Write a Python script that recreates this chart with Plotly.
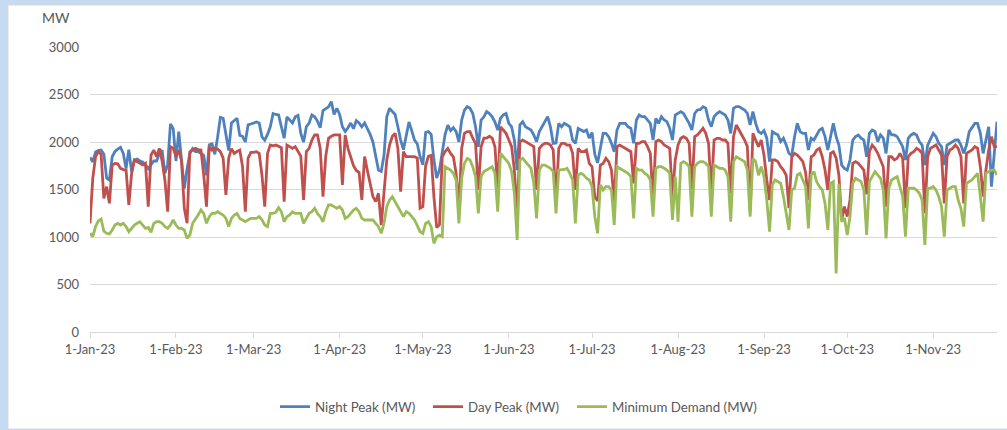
import pandas as pd
import plotly.graph_objects as go

#Daily demand values (MW), one row per week starting on Sunday
night_peak = [
	1840, 1790, 1895, 1910, 1915, 1870, 1620,
	1600, 1845, 1900, 1925, 1945, 1880, 1720,
	1920, 1690, 1810, 1820, 1800, 1790, 1760,
	1720, 1760, 1800, 1800, 1880, 1915, 1670,
	1760, 2190, 2140, 1800, 2110, 1810, 1510,
	1720, 1880, 1930, 1900, 1900, 1880, 1860,
	1650, 1970, 1980, 1870, 2050, 2260, 2250,
	2080, 1910, 2200, 2230, 2250, 2070, 2060,
	2000, 2180, 2190, 2200, 2210, 2200, 2055,
	2020, 2080, 2160, 2300, 2290, 2285, 2160,
	2040, 2265, 2230, 2200, 2265, 2280, 2090,
	2000, 2160, 2200, 2285, 2265, 2220, 2150,
	2330, 2350, 2370, 2425, 2290, 2355, 2290,
	2160, 2110, 2150, 2200, 2140, 2225, 2200,
	2160, 2200, 2140, 2080, 2000, 1845, 1705,
	1690, 1860, 2265, 2355, 2320, 2290, 2160,
	2020, 1920, 2050, 2210, 2120, 2020, 1980,
	1845, 1760, 2100, 2110, 2080, 1810, 1620,
	1705, 1880, 2075, 2178, 2120, 2150, 2110,
	2000, 2230, 2336, 2372, 2354, 2300, 2160,
	1950, 2230, 2265, 2320, 2300, 2265, 2210,
	2125, 2250, 2285, 2300, 2196, 2160, 2020,
	1705, 2180, 2214, 2160, 2144, 2126, 2074,
	2004, 2110, 2160, 2214, 2267, 2160, 1986,
	1990, 2196, 2160, 2196, 2180, 2160, 2020,
	1985, 2143, 2126, 2110, 2126, 2040, 2100,
	1870, 1780, 1950, 2090, 2090, 2055, 1986,
	1898, 2126, 2196, 2196, 2196, 2160, 2144,
	1986, 2232, 2284, 2267, 2267, 2232, 2196,
	2021, 2249, 2196, 2267, 2232, 2214, 2144,
	2021, 2284, 2300, 2320, 2300, 2250, 2196,
	2126, 2300, 2337, 2340, 2372, 2355, 2232,
	2161, 2267, 2300, 2320, 2300, 2284, 2232,
	2091, 2354, 2372, 2372, 2354, 2337, 2300,
	2179, 2320, 2196, 2110, 2090, 2120, 2040,
	1793, 2108, 2090, 2075, 2004, 2040, 1968,
	1880, 1860, 2056, 2196, 2110, 2090, 2090,
	1916, 2039, 2021, 2074, 2126, 2144, 2056,
	1916, 2050, 2196, 2056, 1968, 1757, 1722,
	1705, 1810, 2021, 2056, 2074, 2040, 2021,
	1845, 2091, 2126, 2110, 2004, 2074, 2040,
	1880, 2126, 2074, 2074, 2056, 2004, 1951,
	1810, 2039, 2074, 2090, 2074, 2004, 1968,
	1757, 1968, 2039, 2091, 2056, 1986, 1951,
	1757, 1968, 1986, 2004, 2021, 2021, 1968,
	1880, 1968, 2109, 2160, 2196, 2196, 2091,
	1880, 2039, 2161, 1530, 1900, 2214,
]

day_peak = [
	1144, 1618, 1845, 1898, 1870, 1407, 1530,
	1355, 1758, 1775, 1770, 1722, 1710, 1705,
	1337, 1670, 1810, 1793, 1770, 1758, 1775,
	1320, 1863, 1915, 1845, 1933, 1800, 1600,
	1267, 1950, 1933, 1846, 1915, 1800, 1302,
	1144, 1898, 1915, 1933, 1920, 1915, 1653,
	1320, 1950, 1915, 1933, 1925, 1898, 1830,
	1442, 1830, 1930, 1880, 1900, 1915, 1740,
	1267, 1830, 1890, 1890, 1898, 1881, 1650,
	1320, 1880, 1968, 1960, 1968, 1951, 1940,
	1372, 1968, 1951, 1933, 1951, 1898, 1850,
	1390, 1900, 1933, 2021, 2074, 2074, 1933,
	1425, 1850, 2039, 2060, 2074, 2074, 2074,
	1547, 2074, 1933, 1846, 1750, 1700, 1680,
	1390, 1846, 1700, 1560, 1425, 1372, 1460,
	1126, 1495, 1811, 1968, 2060, 2091, 1933,
	1477, 1898, 1846, 1846, 1846, 1846, 1830,
	1303, 1320, 1750, 1850, 1860, 1420, 1100,
	1130, 1845, 1898, 1933, 1880, 1845, 1670,
	1302, 1933, 2090, 2109, 2109, 2040, 1986,
	1495, 1950, 2040, 2040, 2060, 2040, 1950,
	1495, 2160, 2126, 2091, 2021, 1951, 1705,
	1212, 2004, 2021, 2004, 1986, 1968, 1951,
	1495, 1933, 1968, 1986, 1986, 1968, 1916,
	1372, 1933, 1986, 1986, 1968, 1968, 1881,
	1495, 1933, 1898, 1898, 1916, 1775, 1740,
	1420, 1380, 1758, 1775, 1828, 1793, 1705,
	1372, 1951, 1968, 1951, 1933, 1916, 1898,
	1565, 1986, 1986, 2004, 2004, 1951, 1881,
	1390, 2004, 2021, 2004, 1968, 1951, 1933,
	1425, 1811, 1968, 2039, 2056, 2039, 1986,
	1495, 2056, 2074, 2109, 2144, 2091, 1986,
	1460, 2021, 2039, 2039, 2021, 2021, 1986,
	1460, 2056, 2179, 2126, 2074, 2021, 1951,
	1267, 2091, 2021, 1950, 2021, 1860, 1600,
	1390, 1811, 1811, 1793, 1740, 1705, 1650,
	1303, 1845, 1880, 1863, 1830, 1793, 1680,
	1389, 1845, 1863, 1916, 1933, 1845, 1705,
	1495, 1880, 1898, 1830, 1650, 1180, 1320,
	1215, 1390, 1775, 1793, 1775, 1740, 1705,
	1450, 1900, 1968, 1933, 1881, 1811, 1740,
	1320, 1845, 1845, 1811, 1828, 1881, 1828,
	1303, 1845, 1881, 1898, 1933, 1916, 1881,
	1250, 1845, 1933, 1951, 1968, 1916, 1863,
	1354, 1845, 1916, 1933, 1968, 1933, 1845,
	1354, 1881, 1898, 1916, 1951, 1933, 1740,
	1424, 1705, 1916, 2056, 1951, 1951,
]

minimum_demand = [
	1040, 1005, 1110, 1170, 1190, 1060, 1039,
	1032, 1074, 1126, 1144, 1126, 1144, 1109,
	1056, 1091, 1126, 1144, 1161, 1126, 1091,
	1100, 1050, 1144, 1161, 1161, 1144, 1110,
	1091, 1126, 1179, 1126, 1091, 1091, 1074,
	986, 1021, 1144, 1196, 1232, 1284, 1249,
	1144, 1214, 1249, 1249, 1266, 1249, 1232,
	1196, 1109, 1196, 1232, 1249, 1196, 1179,
	1161, 1180, 1196, 1196, 1196, 1214, 1180,
	1126, 1109, 1249, 1249, 1260, 1310, 1266,
	1161, 1214, 1232, 1266, 1249, 1249, 1249,
	1144, 1196, 1249, 1266, 1302, 1249, 1214,
	1161, 1266, 1337, 1337, 1320, 1302, 1320,
	1284, 1196, 1214, 1249, 1284, 1302, 1266,
	1196, 1179, 1179, 1179, 1179, 1144, 1109,
	1039, 1144, 1320, 1389, 1424, 1372, 1320,
	1266, 1214, 1266, 1249, 1214, 1179, 1120,
	1056, 1039, 1144, 1161, 1109, 933, 1004,
	1021, 1004, 1740, 1723, 1705, 1670, 1600,
	1144, 1618, 1775, 1828, 1810, 1740, 1635,
	1249, 1635, 1688, 1705, 1723, 1740, 1670,
	1266, 1880, 1846, 1811, 1775, 1688, 1460,
	968, 1811, 1828, 1793, 1757, 1722, 1566,
	1196, 1705, 1757, 1757, 1740, 1722, 1688,
	1249, 1705, 1705, 1711, 1723, 1670, 1600,
	1144, 1653, 1670, 1653, 1618, 1600, 1530,
	1214, 1039, 1549, 1495, 1530, 1530, 1495,
	1126, 1740, 1723, 1705, 1688, 1670, 1635,
	1196, 1723, 1705, 1705, 1670, 1653, 1600,
	1214, 1723, 1740, 1740, 1723, 1705, 1670,
	1179, 1635, 1161, 1775, 1793, 1775, 1740,
	1214, 1740, 1775, 1793, 1793, 1775, 1740,
	1214, 1757, 1740, 1723, 1723, 1705, 1635,
	1161, 1793, 1846, 1828, 1811, 1793, 1705,
	1214, 1828, 1793, 1650, 1740, 1635, 1389,
	1056, 1549, 1600, 1583, 1566, 1425, 1267,
	1074, 1495, 1513, 1653, 1670, 1600, 1530,
	1091, 1653, 1688, 1580, 1530, 1495, 1353,
	1074, 1566, 1583, 616, 1560, 1161, 1200,
	1021, 1214, 1566, 1618, 1600, 1583, 1495,
	1021, 1583, 1635, 1688, 1653, 1618, 1495,
	986, 1513, 1600, 1618, 1635, 1530, 1425,
	1004, 1513, 1513, 1513, 1495, 1460, 1389,
	916, 1513, 1513, 1530, 1495, 1425, 1320,
	1004, 1495, 1513, 1530, 1530, 1389, 1300,
	1109, 1566, 1583, 1600, 1635, 1670, 1424,
	1161, 1670, 1688, 1705, 1705, 1653,
]

dates = pd.date_range("2023-01-01", periods=len(night_peak), freq="D")

#name, values, colour, legend entry width
series = [
	("Night Peak (MW)", night_peak, "#4f81bd", 108),
	("Day Peak (MW)", day_peak, "#c0504d", 99),
	("Minimum Demand (MW)", minimum_demand, "#9bbb59", 170),
]

font_family = "Lato, Carlito, Calibri, sans-serif"
text_grey = "#595959"
grid_grey = "#d9d9d9"

fig = go.Figure()
for name, values, colour, entry_w in series:
	fig.add_trace(go.Scatter(x=dates, y=values, name=name, mode="lines",
		line=dict(color=colour, width=2.8), legendwidth=entry_w))

#Chart area frame sitting on the light blue background
fig.add_shape(type="rect", xref="paper", yref="paper",
	x0=-0.0904, x1=1.02, y0=-0.3404, y1=1.1474,
	fillcolor="white", line=dict(color=grid_grey, width=1), layer="below")

fig.add_annotation(text="MW", xref="paper", yref="paper", x=-0.0551, y=1.1018,
	xanchor="left", yanchor="middle", showarrow=False,
	font=dict(size=14, color=text_grey, family=font_family))

fig.update_layout(
	width=1007, height=430,
	margin=dict(l=90, r=10, t=47, b=98),
	paper_bgcolor="#c6daf2", plot_bgcolor="white",
	font=dict(family=font_family, size=13, color=text_grey),
	showlegend=True,
	legend=dict(orientation="h", xref="container", yref="container",
		x=0.2731, y=0.0535, xanchor="left", yanchor="middle",
		font=dict(size=13.3, color=text_grey), bgcolor="rgba(0,0,0,0)"),
)
fig.update_xaxes(range=[dates[0], dates[-1]], tick0="2023-01-01", dtick="M1",
	tickformat="%-d-%b-%y", ticks="outside", ticklen=5, tickcolor=grid_grey,
	showline=True, linecolor=grid_grey, linewidth=1, showgrid=False, zeroline=False)
fig.update_yaxes(range=[0, 3000], dtick=500, showgrid=True, gridcolor=grid_grey,
	gridwidth=1, zeroline=False, showline=False, ticklabelstandoff=10)

#Drop the default page margin so the figure sits at the window corner
fig.write_html("out.html", config={"displayModeBar": False},
	post_script="document.body.style.margin = '0';")
